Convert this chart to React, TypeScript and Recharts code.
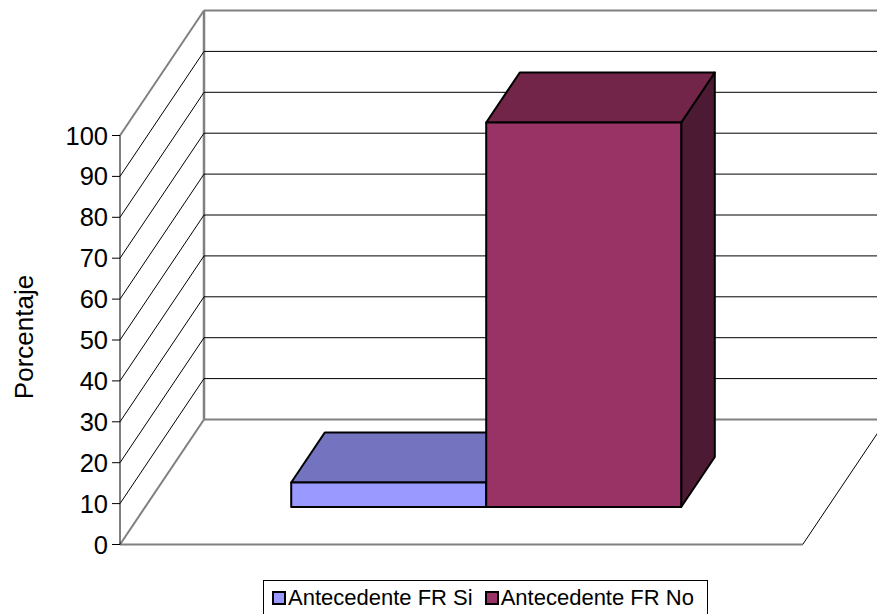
import React from 'react';
import { BarChart, Bar, XAxis, YAxis, CartesianGrid, Legend } from 'recharts';

// values
const categories = ['Antecedente FR'];
const seriesNames = ['Antecedente FR Si', 'Antecedente FR No'];
const siValues = [6];
const noValues = [94];
const yTicks = [0, 10, 20, 30, 40, 50, 60, 70, 80, 90, 100];

const data = categories.map((name, i) => ({ name, si: siValues[i], no: noValues[i] }));

const FONT = '"Liberation Sans", Arial, sans-serif';
// depth of the 3d box (front plane -> back wall)
const DX = 84;
const DY = -125;
const FRONT = 0.3;
const BACK = 0.7;
const WALL = '#808080';

function GridLine(props: any) {
  const { x1, y1, x2, y, height } = props;
  const top = y;
  const bottom = y + height;
  const isBottom = Math.abs(y1 - bottom) < 0.5;
  const isTop = Math.abs(y1 - top) < 0.5;
  const edge = isBottom || isTop;
  const col = edge ? WALL : '#000';
  const w = edge ? 2 : 1;
  return (
    <g>
      <line x1={x1} y1={y1} x2={x1 + DX} y2={y1 + DY} stroke={col} strokeWidth={w} />
      <line x1={x1 + DX} y1={y1 + DY} x2={x2 + DX} y2={y1 + DY} stroke={col} strokeWidth={w} />
      {isBottom && (
        <>
          <line x1={x1} y1={y1} x2={x2} y2={y1} stroke={WALL} strokeWidth={2} />
          <line x1={x2} y1={y1} x2={x2 + DX} y2={y1 + DY} stroke="#000" strokeWidth={1} />
          <line x1={x1 + DX} y1={top + DY} x2={x1 + DX} y2={bottom + DY} stroke={WALL} strokeWidth={2.5} />
        </>
      )}
    </g>
  );
}

function Box3D(props: any) {
  const { x, y, width, height, fill, topFill, sideFill } = props;
  const fx = x + DX * FRONT;
  const fy = y + DY * FRONT;
  const bx = DX * (BACK - FRONT);
  const by = DY * (BACK - FRONT);
  const topPts = `${fx},${fy} ${fx + bx},${fy + by} ${fx + width + bx},${fy + by} ${fx + width},${fy}`;
  const sidePts = `${fx + width},${fy} ${fx + width + bx},${fy + by} ${fx + width + bx},${fy + height + by} ${fx + width},${fy + height}`;
  return (
    <g stroke="#000" strokeWidth={2} strokeLinejoin="round">
      <polygon points={sidePts} fill={sideFill} />
      <polygon points={topPts} fill={topFill} />
      <rect x={fx} y={fy} width={width} height={height} fill={fill} />
    </g>
  );
}

function LegendBox({ payload }: any) {
  const items = [...(payload || [])].sort((a: any, b: any) => seriesNames.indexOf(a.value) - seriesNames.indexOf(b.value));
  return (
    <div style={{
      boxSizing: 'border-box', width: 445, height: 36, border: '1px solid #000',
      display: 'flex', alignItems: 'center', paddingLeft: 8,
      fontFamily: FONT, fontSize: 22, color: '#000', whiteSpace: 'nowrap'
    }}>
      {items.map((e: any, i: number) => (
        <span key={i} style={{ display: 'flex', alignItems: 'center', marginRight: 12 }}>
          <span style={{ width: 14, height: 14, boxSizing: 'border-box', border: '2px solid #000', background: e.color, marginRight: 2 }} />
          {e.value}
        </span>
      ))}
    </div>
  );
}

export default function App() {
  return <div style={{ position: 'absolute', left: 0, top: 0, width: 877, height: 614, overflow: 'hidden', background: '#fff' }}>
      <BarChart width={877} height={614} data={data} barSize={195} barGap={0} margin={{
      top: 135.5,
      right: 74.3,
      left: 20,
      bottom: 69.5
    }}>
        <CartesianGrid horizontal={(p: any) => <GridLine {...p} />} vertical={false} />
        <XAxis dataKey="name" hide />
        <YAxis width={100} domain={[0, 100]} ticks={yTicks} interval={0} axisLine={{
        stroke: '#000'
      }} tickLine={{
        stroke: '#000'
      }} tickSize={8} tickMargin={4} tick={{
        fill: '#000',
        fontSize: 25.5,
        fontFamily: FONT
      }} label={({ viewBox }: any) => <text x={viewBox.x + 4} y={viewBox.y + viewBox.height / 2 - 3} transform={`rotate(-90 ${viewBox.x + 4} ${viewBox.y + viewBox.height / 2 - 3})`} textAnchor="middle" dy="0.35em" fontSize={26} fontFamily={FONT} fill="#000">
            Porcentaje
          </text>} />
        <Legend verticalAlign="middle" align="center" layout="horizontal" content={<LegendBox />} wrapperStyle={{
        left: 263,
        top: 580,
        width: 445,
        height: 36
      }} />
        <Bar dataKey="si" name={seriesNames[0]} fill="#9999FF" isAnimationActive={false} shape={(p: any) => <Box3D {...p} topFill="#7373C0" sideFill="#5C5C99" />} />
        <Bar dataKey="no" name={seriesNames[1]} fill="#993366" isAnimationActive={false} shape={(p: any) => <Box3D {...p} topFill="#722549" sideFill="#4D1A33" />} />
      </BarChart>
    </div>;
}
